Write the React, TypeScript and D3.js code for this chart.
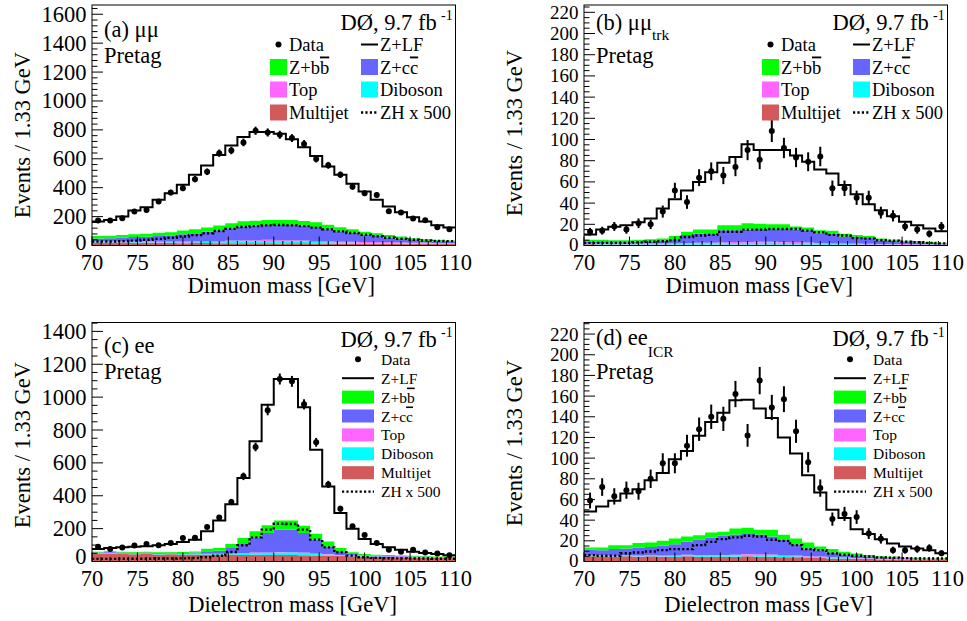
import React from "react";
import * as d3 from "d3";

// ---------- shared binning (30 bins of 1.33 GeV from 70 to 110 GeV) ----------
const massEdges = d3.range(31).map((i) => 70 + (i * 40) / 30);
const xTickValues = d3.range(70, 110.5, 1);
const xLabelValues = [70, 75, 80, 85, 90, 95, 100, 105, 110];

// ---------- panel (a) mumu ----------
const dataA = [173,173,189,235,246,304,366,396,459,510,639,657,713,794,782,766,743,703,599,555,490,407,361,350,237,228,186,175,127,113];
const errA = [13.2,13.2,13.7,15.3,15.7,17.4,19.1,19.9,21.4,22.6,25.3,25.6,26.7,28.2,28,27.7,27.3,26.5,24.5,23.6,22.1,20.2,19,18.7,15.4,15.1,13.6,13.2,11.3,10.6];
const totalA = [166,177,200,242,265,316,362,420,489,553,627,692,750,786,786,773,736,680,620,547,489,427,373,316,270,230,195,166,140,124];
const multijetA = [21,19,20,18,19,17,18,16,17,17,15,16,16,15,16,14,15,15,14,14,13,14,13,12,13,12,11,12,11,10];
const dibosonA = [3,3,3,4,4,4,5,5,6,7,8,10,12,14,16,16,15,13,11,9,7,6,5,5,4,4,3,3,3,3];
const topA = [6,5,6,6,7,6,7,7,6,7,7,8,7,7,8,7,7,7,6,7,6,6,6,5,6,5,5,5,4,4];
const zccA = [18,23,24,30,31,39,40,50,56,64,76,85,96,100,101,105,104,101,97,83,73,62,51,44,33,26,19,12,10,7];
const zbbA = [18,18,19,20,21,22,22,25,27,29,32,35,37,36,36,35,35,34,33,30,27,24,21,19,17,15,12,11,10,10];
const zhA = [28,28,30,34,40,46,54,62,72,85,100,115,128,134,140,142,140,134,124,112,98,86,74,64,54,46,40,35,32,30];

// ---------- panel (b) mumu_trk ----------
const dataB = [13,14,18,15,21,20,32,52,41,64,70,66,74,90,81,108,92,83,79,84,54,54,45,45,31,28,18,15,11,18];
const errB = [3.6,3.7,4.2,3.9,4.6,4.5,5.7,7.2,6.4,8,8.4,8.1,8.6,9.5,9,10.4,9.6,9.1,8.9,9.2,7.3,7.3,6.7,6.7,5.6,5.3,4.2,3.9,3.3,4.2];
const totalB = [10.4,15,17.6,19,22,25.5,35,43.7,52,60,69,78,83.6,95.6,90,90,90,85,79,71.7,68,57,48.4,39,33.3,27.7,22.3,19.2,16,13.5];
const multijetB = [1.2,1,1,0.8,0.9,0.8,0.7,0.8,0.8,0.8,0.7,0.7,0.8,0.7,0.7,0.8,0.7,0.7,0.7,0.6,0.6,0.6,0.6,0.5,0.5,0.5,0.5,0.4,0.4,0.4];
const dibosonB = [0.3,0.3,0.3,0.3,0.4,0.4,0.5,0.6,0.8,1,1.2,1.5,1.6,1.8,2,2,1.9,1.7,1.4,1.1,0.9,0.7,0.6,0.5,0.4,0.4,0.3,0.3,0.3,0.3];
const topB = [0.5,0.6,0.5,0.5,0.6,0.6,0.6,0.7,0.7,0.7,0.8,0.8,0.8,0.8,0.8,0.8,0.8,0.8,0.7,0.7,0.7,0.7,0.6,0.6,0.6,0.5,0.5,0.5,0.4,0.4];
const zccB = [1.5,2.1,1.2,1.4,1.6,2.2,2.7,3.9,7.7,8.5,8.8,11.5,11.3,11.7,12,11.9,12.1,11.8,11.7,9.1,8.8,6.5,6.2,5.4,3.5,3.1,2.2,1.8,1.3,0.9];
const zbbB = [2,1.5,2,2,2,2,2,3,3,4,3.5,4.5,4.5,6,5,4.5,4.5,3,2.5,3,3,2.5,2,2,1.5,1,1,1,0.8,0.5];
const zhB = [2.5,2.5,2.5,2.5,3,3.5,4,5,8,9.5,10,13,13,15,15,15.5,15.5,15.5,14,12.5,10,9.5,7,6.5,5,4.5,3.5,3,2.5,2];

// ---------- panel (c) ee ----------
const dataC = [89,76,85,97,107,99,113,143,145,210,267,362,518,697,920,1110,1096,956,725,469,321,214,161,113,72,60,72,54,48,38];
const errC = [9.4,8.7,9.2,9.8,10.3,9.9,10.6,12,12,14.5,16.3,19,22.8,26.4,30.3,33.3,33.1,30.9,26.9,21.7,17.9,14.6,12.7,10.6,8.5,7.7,8.5,7.3,6.9,6.2];
const totalC = [76,82,87,89,93,99,107,119,133,184,249,348,508,731,954,1110,1110,938,680,457,295,200,137,107,87,72,60,52,46,38];
const multijetC = [46,49,45,44,45,43,44,42,43,42,41,42,40,41,39,40,39,38,36,36,33,32,30,28,27,26,24,24,22,21];
const dibosonC = [2,2,2,2,2,2,2,3,3,3,4,5,7,10,13,15,15,13,10,7,5,3,3,2,2,2,2,2,2,2];
const topC = [2,2,2,2,2,2,2,2,2,2,2,2,3,3,3,3,3,3,3,3,2,2,2,2,2,2,2,2,2,2];
const zccC = [5,5,5,5,5,5,5,5,6,15,19,33,57,89,118,136,137,119,84,46,22,8,3,3,3,3,3,2,2,2];
const zbbC = [5,5,5,5,5,5,5,6,7,16,16,25,36,41,47,55,55,45,36,29,20,11,7,6,5,4,4,3,3,3];
const zhC = [16,16,17,17,17,18,18,19,21,26,35,58,99,147,194,230,228,194,133,86,56,36,26,22,20,19,18,18,17,17];

// ---------- panel (d) ee_ICR ----------
const dataD = [59,72,63,69,68,80,95,95,112,128,140,138,162,122,175,149,157,126,96,71,41,46,43,27,22,11,11,12,13,8];
const errD = [7.7,8.5,7.9,8.3,8.2,8.9,9.7,9.7,10.6,11.3,11.8,11.7,12.7,11,13.2,12.2,12.5,11.2,9.8,8.4,6.4,6.8,6.6,5.2,4.7,3.3,3.3,3.5,3.6,2.8];
const totalD = [48.4,53.2,58.7,65.8,70,78.7,85.5,99,107,121.6,135,144,156,156.5,148,138.7,120,104.5,83.5,66.8,50,42,31.3,26.5,21.6,17.4,14.5,12.6,11,8];
const multijetD = [5,5,4.5,5,4.5,5,4.5,4.5,5,4.5,4.5,4.5,4.5,5,4.5,4.5,4,4,3.5,3.5,3,3,2.5,2.5,2,2,2,1.5,1.5,1.5];
const dibosonD = [0.5,0.5,0.5,0.5,0.6,0.6,0.7,0.8,0.9,1,1.1,1.2,1.4,1.6,1.7,1.6,1.4,1.2,1,0.8,0.7,0.6,0.5,0.5,0.4,0.4,0.4,0.3,0.3,0.3];
const topD = [0.6,0.6,0.6,0.6,0.6,0.6,0.6,0.7,0.7,0.7,0.7,0.7,0.7,0.7,0.7,0.7,0.7,0.6,0.6,0.6,0.6,0.5,0.5,0.5,0.5,0.4,0.4,0.4,0.4,0.3];
const zccD = [5.2,4.9,6.4,6.4,7.9,7.8,9.4,10.8,12.4,14.8,16.7,18.5,19.4,19.2,19.1,17.4,14.9,11,7.5,6.1,4.4,2.7,2,1.4,1.3,0.8,0.5,0.8,0.5,0.3];
const zbbD = [2.3,2.6,3.8,3.3,4.2,4.4,4.8,5.5,5.2,4.5,5,3.8,6,6.1,4.7,6.5,4.8,5.5,5.8,3.5,3.3,2.6,2.3,1.3,1,0.9,0.6,0.6,0.2,0.5];
const zhD = [6.2,5.5,5.5,8,8.7,9.7,11,12,12,15.8,19,21.6,23.3,24.9,24.2,21,20,15.8,12,11,7.8,6.5,5.5,4.9,3.9,3.6,3.3,2.9,2.9,2.9];

// ---------- styles ----------
const STACK_KEYS = ["mj", "db", "top", "zcc", "zbb"];
const COLORS: Record<string, string> = {
  zbb: "#00ff00",
  zcc: "#6666ff",
  top: "#ff66ff",
  db: "#00ffff",
  mj: "#d25a5a",
};
const FONT = "'Liberation Serif', 'Times New Roman', serif";

type PanelData = {
  data: number[]; err: number[]; total: number[];
  mj: number[]; db: number[]; top: number[]; zcc: number[]; zbb: number[]; zh: number[];
};

const panelData: Record<string, PanelData> = {
  a: { data: dataA, err: errA, total: totalA, mj: multijetA, db: dibosonA, top: topA, zcc: zccA, zbb: zbbA, zh: zhA },
  b: { data: dataB, err: errB, total: totalB, mj: multijetB, db: dibosonB, top: topB, zcc: zccB, zbb: zbbB, zh: zhB },
  c: { data: dataC, err: errC, total: totalC, mj: multijetC, db: dibosonC, top: topC, zcc: zccC, zbb: zbbC, zh: zhC },
  d: { data: dataD, err: errD, total: totalD, mj: multijetD, db: dibosonD, top: topD, zcc: zccD, zbb: zbbD, zh: zhD },
};

type Cfg = {
  key: string; left: number; top: number; w: number; h: number;
  yMax: number; yMajor: number; yMinor: number; yLabelMax: number; zeroShift: number; yLabelSize: number;
  xTitle: string; xTitleEnd: number; xTitleBase: number; xLabelBase: number;
  yTitleX: number; yTitleEnd: number;
  tag: string; sub: string | null; tagBase: number; subDy: number; pretagBase: number;
  lumiBase: number; supBase: number;
  legend: "two" | "one";
};

const panels: Cfg[] = [
  { key: "a", left: 92, top: 5, w: 363.5, h: 240.5, yMax: 1664, yMajor: 200, yMinor: 40, yLabelMax: 1600, zeroShift: 3, yLabelSize: 22.5,
    xTitle: "Dimuon mass [GeV]", xTitleEnd: 375, xTitleBase: 293, xLabelBase: 270, yTitleX: 30, yTitleEnd: 52,
    tag: "(a) μμ", sub: null, tagBase: 36.5, subDy: 0, pretagBase: 63, lumiBase: 30, supBase: 20, legend: "two" },
  { key: "b", left: 584, top: 5, w: 363.5, h: 240.5, yMax: 226.9, yMajor: 20, yMinor: 5, yLabelMax: 220, zeroShift: 1, yLabelSize: 19,
    xTitle: "Dimuon mass [GeV]", xTitleEnd: 853, xTitleBase: 293, xLabelBase: 270, yTitleX: 521.5, yTitleEnd: 50,
    tag: "(b) μμ", sub: "trk", tagBase: 29.5, subDy: 10, pretagBase: 63, lumiBase: 30, supBase: 20, legend: "two" },
  { key: "c", left: 92, top: 322.5, w: 363.5, h: 239, yMax: 1454, yMajor: 200, yMinor: 50, yLabelMax: 1400, zeroShift: 5, yLabelSize: 22.5,
    xTitle: "Dielectron mass [GeV]", xTitleEnd: 397, xTitleBase: 611.5, xLabelBase: 586, yTitleX: 30, yTitleEnd: 362,
    tag: "(c) ee", sub: null, tagBase: 353.3, subDy: 0, pretagBase: 379.3, lumiBase: 346.7, supBase: 337, legend: "one" },
  { key: "d", left: 584, top: 322.5, w: 363.5, h: 239, yMax: 231.2, yMajor: 20, yMinor: 5, yLabelMax: 220, zeroShift: 1, yLabelSize: 19,
    xTitle: "Dielectron mass [GeV]", xTitleEnd: 873, xTitleBase: 611.5, xLabelBase: 586, yTitleX: 521.5, yTitleEnd: 360,
    tag: "(d) ee", sub: "ICR", tagBase: 344.5, subDy: 12.2, pretagBase: 378.5, lumiBase: 346, supBase: 337, legend: "one" },
];

type LegendItem = { kind: "marker" | "line" | "dotted" | "box"; color?: string; label: React.ReactNode };

const lblBB = (<><tspan>Z+b</tspan><tspan style={{ textDecoration: "overline" }}>b</tspan></>);
const lblCC = (<><tspan>Z+c</tspan><tspan style={{ textDecoration: "overline" }}>c</tspan></>);

const itemData: LegendItem = { kind: "marker", label: "Data" };
const itemLF: LegendItem = { kind: "line", label: "Z+LF" };
const itemBB: LegendItem = { kind: "box", color: COLORS.zbb, label: lblBB };
const itemCC: LegendItem = { kind: "box", color: COLORS.zcc, label: lblCC };
const itemTop: LegendItem = { kind: "box", color: COLORS.top, label: "Top" };
const itemDB: LegendItem = { kind: "box", color: COLORS.db, label: "Diboson" };
const itemMJ: LegendItem = { kind: "box", color: COLORS.mj, label: "Multijet" };
const itemZH: LegendItem = { kind: "dotted", label: "ZH x 500" };

function LegendSymbol({ it, x0, x1, cy, bh }: { it: LegendItem; x0: number; x1: number; cy: number; bh: number }) {
  if (it.kind === "marker") return <circle cx={(x0 + x1) / 2} cy={cy} r={3} fill="#000" />;
  if (it.kind === "line") return <line x1={x0} x2={x1} y1={cy} y2={cy} stroke="#000" strokeWidth={2} />;
  if (it.kind === "dotted") return <line x1={x0} x2={x1} y1={cy} y2={cy} stroke="#000" strokeWidth={2.4} strokeDasharray="2.2,2.2" />;
  return <rect x={x0} y={cy - bh / 2} width={x1 - x0} height={bh} fill={it.color} />;
}

function Legend({ cfg }: { cfg: Cfg }) {
  const L = cfg.left, T = cfg.top;
  if (cfg.legend === "two") {
    const rows: [LegendItem, LegendItem][] = [
      [itemData, itemLF], [itemBB, itemCC], [itemTop, itemDB], [itemMJ, itemZH],
    ];
    const centers = [39.5, 62, 84.5, 107.5];
    return (
      <g fontFamily={FONT} fontSize={18.5}>
        {rows.map((r, i) => {
          const cy = T + centers[i];
          return (
            <g key={i}>
              <LegendSymbol it={r[0]} x0={L + 178} x1={L + 195} cy={cy} bh={16} />
              <text x={L + 197} y={cy + 6.5}>{r[0].label}</text>
              <LegendSymbol it={r[1]} x0={L + 269} x1={L + 286} cy={cy} bh={16} />
              <text x={L + 288} y={cy + 6.5}>{r[1].label}</text>
            </g>
          );
        })}
      </g>
    );
  }
  const items = [itemData, itemLF, itemBB, itemCC, itemTop, itemDB, itemMJ, itemZH];
  return (
    <g fontFamily={FONT} fontSize={15.5}>
      {items.map((it, i) => {
        const cy = T + 36.8 + i * 18.9;
        return (
          <g key={i}>
            <LegendSymbol it={it} x0={L + 250} x1={L + 282} cy={cy} bh={13} />
            <text x={L + 289} y={cy + 5.5}>{it.label}</text>
          </g>
        );
      })}
    </g>
  );
}

function Panel({ cfg }: { cfg: Cfg }) {
  const d = panelData[cfg.key];
  const x = d3.scaleLinear().domain([70, 110]).range([cfg.left, cfg.left + cfg.w]);
  const y = d3.scaleLinear().domain([0, cfg.yMax]).range([cfg.top + cfg.h, cfg.top]);
  const bottom = cfg.top + cfg.h;

  const rows = d.data.map((_, i) => ({ mj: d.mj[i], db: d.db[i], top: d.top[i], zcc: d.zcc[i], zbb: d.zbb[i] }));
  const stacked = d3.stack<any>().keys(STACK_KEYS)(rows);

  type SP = { x: number; y0: number; y1: number };
  const area = d3.area<SP>().x((p) => x(p.x)).y0((p) => y(p.y0)).y1((p) => y(p.y1));
  const layerPts = (s: any[]): SP[] =>
    s.flatMap((seg: any, i: number) => [
      { x: massEdges[i], y0: seg[0], y1: seg[1] },
      { x: massEdges[i + 1], y0: seg[0], y1: seg[1] },
    ]);

  type LP = { x: number; v: number };
  const line = d3.line<LP>().x((p) => x(p.x)).y((p) => y(p.v));
  const stepPts = (vals: number[]): LP[] =>
    vals.flatMap((v, i) => [{ x: massEdges[i], v }, { x: massEdges[i + 1], v }]);

  const centers = d.data.map((_, i) => (massEdges[i] + massEdges[i + 1]) / 2);
  const yTicks = d3.range(0, cfg.yMax + 1e-6, cfg.yMinor);
  const yLabels = d3.range(0, cfg.yLabelMax + 1e-6, cfg.yMajor);
  const clipId = `clip-${cfg.key}`;

  return (
    <g>
      <defs>
        <clipPath id={clipId}>
          <rect x={cfg.left} y={cfg.top} width={cfg.w} height={cfg.h} />
        </clipPath>
      </defs>
      <g clipPath={`url(#${clipId})`}>
        {stacked.map((s: any) => (
          <path key={s.key} d={area(layerPts(s)) || ""} fill={COLORS[s.key]} stroke="none" />
        ))}
        <path d={line(stepPts(d.zh)) || ""} fill="none" stroke="#000" strokeWidth={2.4} strokeDasharray="2.2,2.2" />
        <path d={line(stepPts(d.total)) || ""} fill="none" stroke="#000" strokeWidth={2} />
      </g>
      {/* data */}
      {d.data.map((v, i) => (
        <g key={i}>
          <line x1={x(centers[i])} x2={x(centers[i])} y1={y(v - d.err[i])} y2={y(v + d.err[i])} stroke="#000" strokeWidth={2} />
          <circle cx={x(centers[i])} cy={y(v)} r={3} fill="#000" />
        </g>
      ))}
      {/* frame */}
      <rect x={cfg.left} y={cfg.top} width={cfg.w} height={cfg.h} fill="none" stroke="#000" strokeWidth={1} />
      {/* x ticks */}
      {xTickValues.map((t) => {
        const major = t % 5 === 0;
        return <line key={t} x1={x(t)} x2={x(t)} y1={bottom} y2={bottom - (major ? 9 : 4.5)} stroke="#000" strokeWidth={1} />;
      })}
      {/* y ticks */}
      {yTicks.map((t) => {
        const major = Math.abs(t / cfg.yMajor - Math.round(t / cfg.yMajor)) < 1e-6;
        return <line key={t} x1={cfg.left} x2={cfg.left + (major ? 11 : 5.5)} y1={y(t)} y2={y(t)} stroke="#000" strokeWidth={1} />;
      })}
      <g fontFamily={FONT} fontSize={22.5} fill="#000">
        {xLabelValues.map((t) => (
          <text key={t} x={x(t)} y={cfg.xLabelBase} textAnchor="middle">{t}</text>
        ))}
        {yLabels.map((t) => (
          <text key={t} x={cfg.left - 5.5} y={y(t) - (t === 0 ? cfg.zeroShift : 0)} fontSize={cfg.yLabelSize} textAnchor="end" dominantBaseline="central">{t}</text>
        ))}
        <text x={cfg.xTitleEnd} y={cfg.xTitleBase} textAnchor="end">{cfg.xTitle}</text>
        <text transform={`translate(${cfg.yTitleX},${cfg.yTitleEnd}) rotate(-90)`} textAnchor="end">Events / 1.33 GeV</text>
        <text x={cfg.left + 12} y={cfg.tagBase}>
          {cfg.tag}
          {cfg.sub ? <tspan dy={cfg.subDy} fontSize={15.5}>{cfg.sub}</tspan> : null}
        </text>
        <text x={cfg.left + 12} y={cfg.pretagBase}>Pretag</text>
        <text x={cfg.left + 344.7} y={cfg.lumiBase} textAnchor="end">DØ, 9.7 fb</text>
        <text x={cfg.left + 349} y={cfg.supBase} fontSize={14}>-1</text>
      </g>
      <Legend cfg={cfg} />
    </g>
  );
}

export default function App() {
  return (
    <svg width={967} height={621} viewBox="0 0 967 621" style={{ position: "absolute", left: 0, top: 0, background: "#fff" }}>
      <rect x={0} y={0} width={967} height={621} fill="#fff" />
      {panels.map((p) => (
        <Panel key={p.key} cfg={p} />
      ))}
    </svg>
  );
}
